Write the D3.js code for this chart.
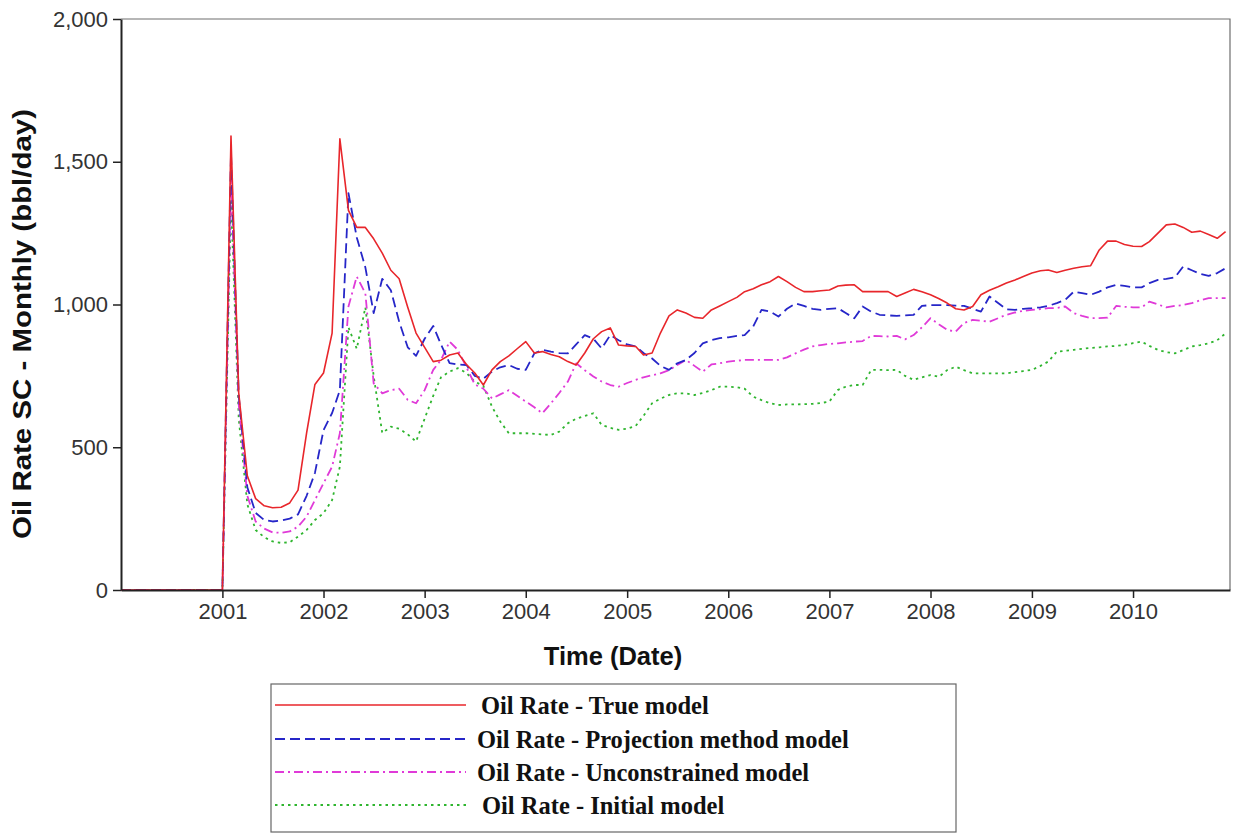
<!DOCTYPE html>
<html>
<head>
<meta charset="utf-8">
<script src="https://cdn.jsdelivr.net/npm/d3@7"></script>
<style>
  html, body { margin: 0; padding: 0; background: #ffffff; }
  svg { display: block; }
</style>
</head>
<body>
<svg id="chart" width="1238" height="839"></svg>
<script>
// Monthly oil rate (bbl/day), January 2000 to December 2010.
const startMonth = new Date(2000, 0, 1);
const monthCount = 132;

const yearTicks = [2001, 2002, 2003, 2004, 2005, 2006, 2007, 2008, 2009, 2010];
const rateTicks = [0, 500, 1000, 1500, 2000];

const zeros2000 = [0, 0, 0, 0, 0, 0, 0, 0, 0, 0, 0, 0];

const trueModel = zeros2000.concat([
  0, 1590, 690, 400, 320, 295, 288, 290, 305, 350, 550, 720,
  760, 900, 1580, 1330, 1270, 1270, 1230, 1180, 1120, 1090, 990, 900,
  850, 800, 805, 823, 830, 790, 760, 718, 771, 800, 820, 845,
  870, 830, 835, 825, 817, 800, 788, 830, 880, 905, 918, 858,
  855, 853, 823, 830, 900, 960, 981, 970, 955, 952, 981, 995,
  1010, 1025, 1045, 1055, 1069, 1080, 1098, 1080, 1060, 1045, 1045, 1048,
  1051, 1065, 1068, 1069, 1045, 1045, 1045, 1045, 1028, 1040, 1053, 1045,
  1034, 1020, 1005, 985, 981, 993, 1034, 1050, 1062, 1075, 1086, 1098,
  1110, 1118, 1121, 1112, 1120, 1127, 1132, 1136, 1191, 1222, 1222, 1210,
  1204, 1203, 1220, 1250, 1279, 1282, 1270, 1253, 1257, 1245, 1232, 1255
]);

const projectionModel = zeros2000.concat([
  0, 1530, 680, 360, 270, 245, 240, 243, 250, 265, 330, 410,
  560, 620, 700, 1390, 1235, 1130, 970, 1090, 1050, 940, 850, 820,
  880, 925, 860, 795, 790, 788, 750, 740, 765, 780, 788, 775,
  771, 829, 841, 835, 830, 829, 860, 893, 880, 846, 893, 875,
  860, 853, 830, 811, 785, 771, 794, 806, 830, 864, 875, 882,
  885, 890, 893, 923, 981, 975, 958, 985, 1004, 995, 985, 981,
  985, 987, 970, 952, 993, 975, 964, 962, 960, 962, 964, 995,
  998, 998, 998, 996, 995, 985, 975, 1028, 1005, 983, 981, 985,
  987, 990, 995, 1005, 1016, 1045, 1040, 1034, 1045, 1060, 1069, 1065,
  1060, 1060, 1075, 1086, 1090, 1095, 1133, 1120, 1107, 1100, 1110, 1127
]);

const unconstrainedModel = zeros2000.concat([
  0, 1450, 650, 330, 240, 215, 202, 200, 205, 222, 257, 315,
  374, 432, 549, 993, 1098, 1039, 724, 689, 700, 705, 666, 654,
  700, 771, 806, 870, 841, 780, 720, 705, 671, 685, 700, 680,
  660, 640, 619, 654, 690, 730, 794, 770, 748, 730, 718, 712,
  725, 736, 745, 752, 759, 770, 788, 806, 785, 765, 790, 794,
  800, 803, 806, 806, 806, 806, 806, 815, 829, 842, 853, 858,
  862, 864, 867, 870, 872, 890, 889, 888, 890, 878, 893, 920,
  952, 930, 911, 905, 935, 946, 943, 940, 952, 964, 972, 978,
  981, 984, 987, 988, 993, 970, 960, 952, 952, 954, 995, 992,
  990, 990, 1010, 1000, 990, 995, 998, 1005, 1015, 1022, 1022, 1022
]);

const initialModel = zeros2000.concat([
  0, 1370, 600, 300, 210, 185, 170, 165, 167, 187, 210, 245,
  269, 315, 432, 920, 845, 990, 750, 550, 572, 565, 545, 520,
  600, 680, 745, 765, 777, 760, 730, 715, 642, 590, 549, 549,
  549, 547, 545, 543, 555, 584, 600, 610, 619, 578, 568, 561,
  565, 575, 610, 654, 670, 683, 689, 689, 683, 690, 700, 712,
  712, 710, 705, 677, 665, 654, 648, 650, 650, 651, 652, 655,
  660, 701, 712, 718, 718, 771, 771, 770, 771, 750, 736, 745,
  753, 747, 770, 782, 770, 759, 759, 759, 759, 759, 763, 767,
  771, 785, 800, 835, 838, 841, 845, 848, 850, 853, 855, 858,
  865, 870, 855, 841, 833, 829, 840, 853, 858, 864, 875, 899
]);

const seriesNames = [
  "Oil Rate - True model",
  "Oil Rate - Projection method model",
  "Oil Rate - Unconstrained model",
  "Oil Rate - Initial model"
];
const seriesValues = [trueModel, projectionModel, unconstrainedModel, initialModel];

// Drawing styles for each series
const seriesColors = ["#e8262b", "#2626c8", "#e03ad8", "#2fb52f"];
const seriesDash = ["none", "10,5", "9,4,2,4", "2.5,4"];
const seriesWidth = [1.6, 1.8, 1.8, 1.8];

const months = d3.range(monthCount).map(i => d3.timeMonth.offset(startMonth, i));

const svg = d3.select("#chart");
const plot = { left: 121, right: 1230, top: 19, bottom: 590 };

const x = d3.scaleTime()
  .domain([startMonth, new Date(2010, 11, 17)])
  .range([plot.left, plot.right]);

const y = d3.scaleLinear()
  .domain([0, 2000])
  .range([plot.bottom, plot.top]);

// Frame on top and right
svg.append("path")
  .attr("d", `M${plot.left},${plot.top}H${plot.right}V${plot.bottom}`)
  .attr("fill", "none")
  .attr("stroke", "#6e6e6e")
  .attr("stroke-width", 1.2);

// Series lines
const line = d3.line()
  .x((d, i) => x(months[i]))
  .y(d => y(d));

const lines = svg.append("g").attr("class", "series");
seriesValues.slice().reverse().forEach((vals, ri) => {
  const k = seriesValues.length - 1 - ri;
  lines.append("path")
    .datum(vals)
    .attr("d", line)
    .attr("fill", "none")
    .attr("stroke", seriesColors[k])
    .attr("stroke-width", seriesWidth[k])
    .attr("stroke-dasharray", seriesDash[k])
    .attr("stroke-linejoin", "round");
});

// X axis
const xAxis = d3.axisBottom(x)
  .tickValues(yearTicks.map(yr => new Date(yr, 0, 1)))
  .tickFormat(d3.timeFormat("%Y"))
  .tickSize(8)
  .tickSizeOuter(0)
  .tickPadding(5);

const gx = svg.append("g")
  .attr("transform", `translate(0,${plot.bottom})`)
  .call(xAxis);
gx.select(".domain").attr("stroke", "#222").attr("stroke-width", 2);
gx.selectAll(".tick line").attr("stroke", "#222").attr("stroke-width", 1.5);
gx.selectAll(".tick text")
  .attr("fill", "#333")
  .style("font-family", "'Liberation Sans', Arial, sans-serif")
  .style("font-size", "22px");

// Y axis
const yAxis = d3.axisLeft(y)
  .tickValues(rateTicks)
  .tickFormat(d3.format(","))
  .tickSize(8)
  .tickSizeOuter(0)
  .tickPadding(5);

const gy = svg.append("g")
  .attr("transform", `translate(${plot.left},0)`)
  .call(yAxis);
gy.select(".domain").attr("stroke", "#222").attr("stroke-width", 2);
gy.selectAll(".tick line").attr("stroke", "#222").attr("stroke-width", 1.5);
gy.selectAll(".tick text")
  .attr("fill", "#333")
  .style("font-family", "'Liberation Sans', Arial, sans-serif")
  .style("font-size", "22px");

// Axis titles
svg.append("text")
  .attr("x", 613)
  .attr("y", 665)
  .attr("text-anchor", "middle")
  .attr("fill", "#111")
  .style("font-family", "'Liberation Sans', Arial, sans-serif")
  .style("font-weight", "bold")
  .style("font-size", "25.5px")
  .text("Time (Date)");

svg.append("text")
  .attr("transform", "translate(31,324) rotate(-90)")
  .attr("text-anchor", "middle")
  .attr("fill", "#111")
  .attr("textLength", 430)
  .attr("lengthAdjust", "spacingAndGlyphs")
  .style("font-family", "'Liberation Sans', Arial, sans-serif")
  .style("font-weight", "bold")
  .style("font-size", "25px")
  .text("Oil Rate SC - Monthly (bbl/day)");

// Legend
const legend = { left: 271, top: 684, width: 685, height: 148 };
const legendRowsY = [705, 739, 772, 805];
const legendTextX = [481, 477, 477, 482];

svg.append("rect")
  .attr("x", legend.left)
  .attr("y", legend.top)
  .attr("width", legend.width)
  .attr("height", legend.height)
  .attr("fill", "#fff")
  .attr("stroke", "#666")
  .attr("stroke-width", 1.2);

const rows = svg.append("g").attr("class", "legend")
  .selectAll("g")
  .data(seriesNames)
  .join("g");

rows.append("line")
  .attr("x1", legend.left + 4)
  .attr("x2", 466)
  .attr("y1", (d, i) => legendRowsY[i])
  .attr("y2", (d, i) => legendRowsY[i])
  .attr("stroke", (d, i) => seriesColors[i])
  .attr("stroke-width", (d, i) => seriesWidth[i])
  .attr("stroke-dasharray", (d, i) => seriesDash[i]);

rows.append("text")
  .attr("x", (d, i) => legendTextX[i])
  .attr("y", (d, i) => legendRowsY[i])
  .attr("dy", "0.35em")
  .attr("fill", "#111")
  .style("font-family", "'Liberation Serif', 'Times New Roman', serif")
  .style("font-weight", "bold")
  .style("font-size", "24.5px")
  .text(d => d);
</script>
</body>
</html>
